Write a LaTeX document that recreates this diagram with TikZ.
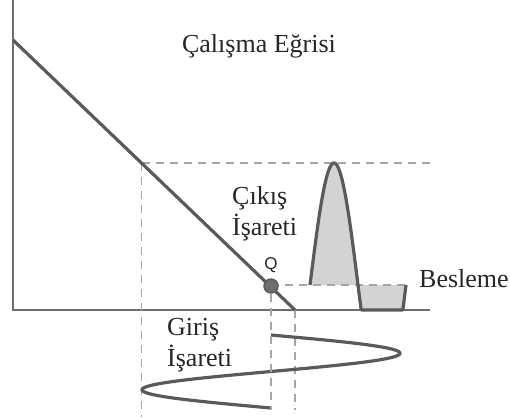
\documentclass[tikz,border=0pt]{standalone}
\usepackage{fontspec}
\setmainfont{Liberation Serif}
\newfontfamily\qfont{Liberation Sans}
\usetikzlibrary{positioning}
\definecolor{linegray}{RGB}{90,90,90}
\definecolor{axisgray}{RGB}{110,110,110}
\definecolor{dashgray}{RGB}{165,165,165}
\definecolor{fillgray}{RGB}{211,211,211}

\begin{document}
\begin{tikzpicture}[x=1pt,y=-1pt,
  every node/.style={font=\fontsize{26}{31}\selectfont, text=black!85, inner sep=0pt},
  axis/.style={draw=axisgray, line width=2pt},
  wave/.style={draw=linegray, line width=3.2pt, line join=round},
  guide/.style={draw=dashgray, line width=1.6pt, dash pattern=on 8pt off 6pt}]
  \useasboundingbox (0,0) rectangle (510,417);
  % Axes
  \coordinate (top) at (13,0);
  \coordinate (O) at (13,310);
  \coordinate (xend) at (430,310);
  \draw[axis] (top) -- (O) -- (xend);
  % Operating line
  \coordinate (A) at (13,40);
  \coordinate (B) at (295,310);
  \coordinate (P) at (141.5,163);
  % Guides
  \coordinate (peak) at (432,163);
  \coordinate (pbot) at (141.5,417);
  \coordinate (qbot) at (271,410);
  \coordinate (bbot) at (295,410);
  \coordinate (qend) at (410,285);
  \draw[guide] (P) -- (peak);
  \draw[guide] (P) -- (pbot);
  \draw[guide] (B) -- (bbot);
  % Output signal
  \fill[fillgray] plot[domain=310:406, samples=193] (\x, {min(310, 285-122*sin(3.75*(\x-310)))}) -- cycle;
  \draw[guide] (271,285) -- (qend);
  \draw[wave] plot[domain=310:406, samples=193] (\x, {min(310, 285-122*sin(3.75*(\x-310)))});
  \draw[wave] (A) -- (B);
  % Input signal
  \draw[wave] plot[domain=335:408, samples=120] ({271+129*sin(4.9315*(\x-335))}, \x);
  % Q point
  \node[circle, draw=linegray, fill=axisgray, line width=1.4pt, minimum size=14pt] (Q) at (271,286) {};
  \draw[guide] (Q.south) -- (qbot);
  \node[anchor=base, font=\qfont\fontsize{17}{19}\selectfont] (qlbl) at (271,269) {Q};
  % Labels
  \node[anchor=base] (title) at (259,53) {Çalışma Eğrisi};
  \node[anchor=north west, align=left] (out) at (232,186) {Çıkış\\İşareti};
  \node[anchor=north west, align=left] (in) at (167,318) {Giriş\\İşareti};
  \node[anchor=base west] (feed) at (419,287) {Besleme};
\end{tikzpicture}
\end{document}
